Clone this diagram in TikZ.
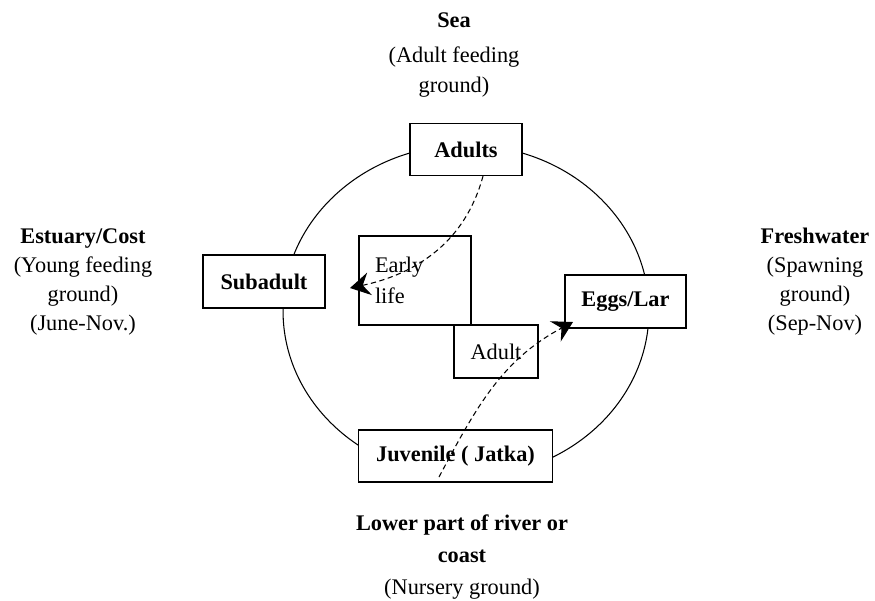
\documentclass[tikz,border=0pt]{standalone}
\usepackage{fontspec}
\setmainfont{Liberation Serif}
\usetikzlibrary{arrows.meta}

\begin{document}
\begin{tikzpicture}[
    x=0.02cm, y=-0.02cm,
    font=\fontsize{12.7}{18}\selectfont,
    stagebox/.style={draw, fill=white, line width=0.6pt, inner sep=0pt, font=\fontsize{12.7}{18}\selectfont\bfseries},
    lifebox/.style={draw, fill=white, line width=0.6pt, inner sep=0pt},
    place/.style={align=center},
    migrate/.style={densely dashed, line width=0.6pt, -{Stealth[length=4mm, width=4.6mm, inset=1.4mm]}},
]
\useasboundingbox (0,0) rectangle (875,600);

% the life cycle
\draw[line width=0.6pt] (466,311) ellipse [x radius=3.66cm, y radius=3.32cm];

\node[stagebox, minimum width=2.24cm, minimum height=1.04cm] (adults) at (466,149.5) {Adults};
\node[stagebox, minimum width=2.44cm, minimum height=1.06cm] (subadult) at (264,281.5) {Subadult};
\node[stagebox, minimum width=2.42cm, minimum height=1.06cm] (eggs) at (625.5,301.5) {Eggs/Lar};
\node[stagebox, minimum width=3.88cm, minimum height=1.04cm] (juvenile) at (455.5,456) {Juvenile ( Jatka)};

\node[lifebox, minimum width=2.24cm, minimum height=1.78cm, text width=1.6cm, inner xsep=0.32cm, align=left] (early) at (415,280.5) {Early\\life};
\node[lifebox, minimum width=1.68cm, minimum height=1.06cm] (adult) at (496,351.5) {Adult};

% habitats
\node[place] (sea) at (454,55) {\textbf{Sea}\\[2pt](Adult feeding\\[-1pt]ground)};
\node[place] (estuary) at (83,282) {\textbf{Estuary/Cost}\\[-1.5pt](Young feeding\\[-1.5pt]ground)\\[-1.5pt](June-Nov.)};
\node[place] (fresh) at (815,282) {\textbf{Freshwater}\\[-1.5pt](Spawning\\[-1.5pt]ground)\\[-1.5pt](Sep-Nov)};
\node[place] (lower) at (462,557) {\textbf{Lower part of river or}\\\textbf{coast}\\(Nursery ground)};

% migrations
\coordinate (youngtip) at (350,288);
\coordinate (nurserystart) at (439,477);
\coordinate (spawntip) at (573,322);

\draw[migrate] ([xshift=0.34cm]adults.south) to[out=-105, in=12] (youngtip);
\draw[migrate] (nurserystart) to[out=62, in=208] (spawntip);
\end{tikzpicture}
\end{document}
